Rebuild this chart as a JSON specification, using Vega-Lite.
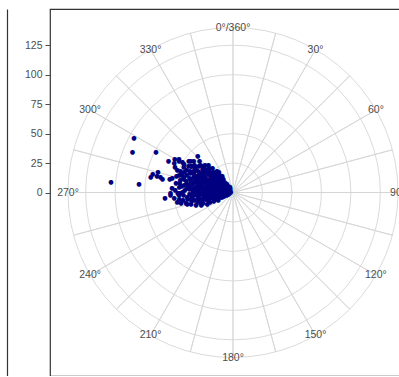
{
  "$schema": "https://vega.github.io/schema/vega-lite/v6.json",
  "width": 366,
  "height": 367,
  "autosize": {"type": "none"},
  "padding": {"left": 50, "top": 9, "right": 0, "bottom": 0},
  "background": "white",
  "config": {"view": {"stroke": "#333333", "strokeWidth": 1.2}, "font": "Liberation Sans"},
  "resolve": {"scale": {"y": "independent"}, "axis": {"y": "independent"}},
  "datasets": {
    "rings": [{"r": 25}, {"r": 50}, {"r": 75}, {"r": 100}, {"r": 125}, {"r": 140}],
    "spokes": [{"a": 0}, {"a": 15}, {"a": 30}, {"a": 45}, {"a": 60}, {"a": 75}, {"a": 90}, {"a": 105}, {"a": 120}, {"a": 135}, {"a": 150}, {"a": 165}, {"a": 180}, {"a": 195}, {"a": 210}, {"a": 225}, {"a": 240}, {"a": 255}, {"a": 270}, {"a": 285}, {"a": 300}, {"a": 315}, {"a": 330}, {"a": 345}],
    "labels": [{"a": 0, "label": "0°/360°"}, {"a": 30, "label": "30°"}, {"a": 60, "label": "60°"}, {"a": 90, "label": "90°"}, {"a": 120, "label": "120°"}, {"a": 150, "label": "150°"}, {"a": 180, "label": "180°"}, {"a": 210, "label": "210°"}, {"a": 240, "label": "240°"}, {"a": 270, "label": "270°"}, {"a": 300, "label": "300°"}, {"a": 330, "label": "330°"}],
    "obs": [
      {"dir": 250, "r": 4}, {"dir": 262, "r": 3}, {"dir": 275, "r": 5}, {"dir": 288, "r": 4}, {"dir": 300, "r": 3}, {"dir": 312, "r": 5}, {"dir": 322, "r": 4}, {"dir": 258, "r": 7}, {"dir": 283, "r": 8}, {"dir": 296, "r": 7}, {"dir": 318, "r": 8}, {"dir": 268, "r": 6}, {"dir": 245, "r": 6}, {"dir": 305, "r": 6}, {"dir": 330, "r": 5}, {"dir": 279, "r": 2}, {"dir": 292, "r": 3},
      {"dir": 246, "r": 10}, {"dir": 252, "r": 13}, {"dir": 259, "r": 11}, {"dir": 265, "r": 14}, {"dir": 271, "r": 9}, {"dir": 277, "r": 12}, {"dir": 284, "r": 15}, {"dir": 290, "r": 10}, {"dir": 297, "r": 13}, {"dir": 303, "r": 11}, {"dir": 309, "r": 14}, {"dir": 315, "r": 10}, {"dir": 321, "r": 12}, {"dir": 326, "r": 9}, {"dir": 255, "r": 9}, {"dir": 262, "r": 15}, {"dir": 280, "r": 10}, {"dir": 294, "r": 9}, {"dir": 306, "r": 15}, {"dir": 318, "r": 14}, {"dir": 243, "r": 14}, {"dir": 269, "r": 12}, {"dir": 287, "r": 13}, {"dir": 300, "r": 9}, {"dir": 312, "r": 12}, {"dir": 324, "r": 14}, {"dir": 275, "r": 15}, {"dir": 258, "r": 12},
      {"dir": 245, "r": 18}, {"dir": 250, "r": 16}, {"dir": 256, "r": 20}, {"dir": 261, "r": 17}, {"dir": 266, "r": 21}, {"dir": 270, "r": 16}, {"dir": 274, "r": 19}, {"dir": 279, "r": 22}, {"dir": 283, "r": 17}, {"dir": 288, "r": 20}, {"dir": 292, "r": 16}, {"dir": 297, "r": 21}, {"dir": 301, "r": 18}, {"dir": 306, "r": 22}, {"dir": 310, "r": 17}, {"dir": 315, "r": 20}, {"dir": 319, "r": 16}, {"dir": 323, "r": 19}, {"dir": 327, "r": 17}, {"dir": 253, "r": 22}, {"dir": 264, "r": 18}, {"dir": 276, "r": 17}, {"dir": 286, "r": 22}, {"dir": 295, "r": 18}, {"dir": 304, "r": 16}, {"dir": 313, "r": 22}, {"dir": 248, "r": 21}, {"dir": 259, "r": 16}, {"dir": 268, "r": 20}, {"dir": 281, "r": 19}, {"dir": 290, "r": 18}, {"dir": 299, "r": 16}, {"dir": 308, "r": 19}, {"dir": 317, "r": 18}, {"dir": 321, "r": 22}, {"dir": 272, "r": 22},
      {"dir": 246, "r": 24}, {"dir": 251, "r": 27}, {"dir": 256, "r": 23}, {"dir": 260, "r": 29}, {"dir": 264, "r": 25}, {"dir": 268, "r": 28}, {"dir": 272, "r": 24}, {"dir": 276, "r": 27}, {"dir": 280, "r": 30}, {"dir": 284, "r": 23}, {"dir": 288, "r": 26}, {"dir": 292, "r": 29}, {"dir": 296, "r": 24}, {"dir": 300, "r": 27}, {"dir": 304, "r": 23}, {"dir": 308, "r": 28}, {"dir": 312, "r": 25}, {"dir": 316, "r": 24}, {"dir": 320, "r": 27}, {"dir": 324, "r": 23}, {"dir": 254, "r": 30}, {"dir": 266, "r": 30}, {"dir": 278, "r": 25}, {"dir": 290, "r": 23}, {"dir": 302, "r": 30}, {"dir": 314, "r": 28}, {"dir": 258, "r": 26}, {"dir": 270, "r": 26}, {"dir": 282, "r": 27}, {"dir": 294, "r": 27}, {"dir": 306, "r": 26}, {"dir": 318, "r": 22}, {"dir": 286, "r": 29}, {"dir": 298, "r": 29}, {"dir": 262, "r": 24}, {"dir": 274, "r": 29}, {"dir": 310, "r": 30}, {"dir": 249, "r": 29},
      {"dir": 252, "r": 33}, {"dir": 257, "r": 31}, {"dir": 261, "r": 36}, {"dir": 266, "r": 33}, {"dir": 270, "r": 31}, {"dir": 274, "r": 37}, {"dir": 278, "r": 32}, {"dir": 282, "r": 35}, {"dir": 286, "r": 31}, {"dir": 290, "r": 36}, {"dir": 294, "r": 33}, {"dir": 298, "r": 31}, {"dir": 302, "r": 35}, {"dir": 306, "r": 32}, {"dir": 310, "r": 36}, {"dir": 314, "r": 33}, {"dir": 318, "r": 31}, {"dir": 255, "r": 37}, {"dir": 264, "r": 35}, {"dir": 272, "r": 34}, {"dir": 280, "r": 38}, {"dir": 288, "r": 33}, {"dir": 296, "r": 37}, {"dir": 304, "r": 38}, {"dir": 312, "r": 34}, {"dir": 268, "r": 37}, {"dir": 284, "r": 37}, {"dir": 300, "r": 33}, {"dir": 276, "r": 35}, {"dir": 292, "r": 32}, {"dir": 308, "r": 37},
      {"dir": 256, "r": 40}, {"dir": 261, "r": 43}, {"dir": 265, "r": 39}, {"dir": 269, "r": 45}, {"dir": 273, "r": 41}, {"dir": 277, "r": 44}, {"dir": 281, "r": 40}, {"dir": 285, "r": 43}, {"dir": 289, "r": 39}, {"dir": 293, "r": 45}, {"dir": 297, "r": 41}, {"dir": 301, "r": 44}, {"dir": 305, "r": 40}, {"dir": 309, "r": 43}, {"dir": 313, "r": 39}, {"dir": 259, "r": 45}, {"dir": 267, "r": 42}, {"dir": 275, "r": 39}, {"dir": 283, "r": 46}, {"dir": 291, "r": 42}, {"dir": 299, "r": 38}, {"dir": 307, "r": 45}, {"dir": 287, "r": 44}, {"dir": 279, "r": 42}, {"dir": 295, "r": 40},
      {"dir": 260, "r": 48}, {"dir": 265, "r": 50}, {"dir": 270, "r": 47}, {"dir": 274, "r": 52}, {"dir": 279, "r": 49}, {"dir": 283, "r": 53}, {"dir": 288, "r": 48}, {"dir": 292, "r": 51}, {"dir": 297, "r": 47}, {"dir": 301, "r": 50}, {"dir": 305, "r": 46}, {"dir": 268, "r": 53}, {"dir": 286, "r": 50}, {"dir": 294, "r": 54}, {"dir": 276, "r": 46}, {"dir": 282, "r": 55}, {"dir": 272, "r": 49}, {"dir": 300, "r": 53},
      {"dir": 299, "r": 96}, {"dir": 292, "r": 92}, {"dir": 298, "r": 74}, {"dir": 275, "r": 104}, {"dir": 275, "r": 80}, {"dir": 296, "r": 61}, {"dir": 300, "r": 57}, {"dir": 316, "r": 43}, {"dir": 283, "r": 70}, {"dir": 285, "r": 66}, {"dir": 282, "r": 63}, {"dir": 280.5, "r": 71}, {"dir": 265, "r": 58}, {"dir": 270, "r": 53},
      {"dir": 297, "r": 56}, {"dir": 302, "r": 54}, {"dir": 300, "r": 48}, {"dir": 302, "r": 42}, {"dir": 282, "r": 66}, {"dir": 281, "r": 61}, {"dir": 267, "r": 46}, {"dir": 257, "r": 41},
      {"dir": 248, "r": 8}, {"dir": 256, "r": 5}, {"dir": 264, "r": 9}, {"dir": 272, "r": 7}, {"dir": 281, "r": 6}, {"dir": 289, "r": 8}, {"dir": 298, "r": 5}, {"dir": 307, "r": 9}, {"dir": 315, "r": 7}, {"dir": 325, "r": 7}, {"dir": 252, "r": 11}, {"dir": 286, "r": 11}, {"dir": 303, "r": 8}, {"dir": 260, "r": 6}, {"dir": 276, "r": 10}, {"dir": 293, "r": 12}, {"dir": 310, "r": 8}, {"dir": 320, "r": 10},
      {"dir": 249, "r": 14}, {"dir": 254, "r": 17}, {"dir": 263, "r": 13}, {"dir": 267, "r": 16}, {"dir": 273, "r": 13}, {"dir": 278, "r": 15}, {"dir": 282, "r": 13}, {"dir": 285, "r": 18}, {"dir": 289, "r": 15}, {"dir": 293, "r": 14}, {"dir": 296, "r": 19}, {"dir": 299, "r": 13}, {"dir": 302, "r": 15}, {"dir": 305, "r": 19}, {"dir": 308, "r": 12}, {"dir": 311, "r": 19}, {"dir": 314, "r": 15}, {"dir": 318, "r": 12}, {"dir": 322, "r": 16}, {"dir": 325, "r": 21}, {"dir": 257, "r": 24}, {"dir": 263, "r": 21}, {"dir": 269, "r": 24}, {"dir": 275, "r": 21}, {"dir": 280, "r": 24}, {"dir": 284, "r": 20}, {"dir": 291, "r": 24}, {"dir": 294, "r": 21}, {"dir": 298, "r": 23}, {"dir": 303, "r": 20}, {"dir": 307, "r": 24}, {"dir": 312, "r": 21}, {"dir": 316, "r": 23},
      {"dir": 253, "r": 28}, {"dir": 259, "r": 33}, {"dir": 263, "r": 30}, {"dir": 267, "r": 26}, {"dir": 271, "r": 29}, {"dir": 275, "r": 32}, {"dir": 279, "r": 28}, {"dir": 283, "r": 31}, {"dir": 287, "r": 27}, {"dir": 291, "r": 30}, {"dir": 295, "r": 34}, {"dir": 299, "r": 28}, {"dir": 303, "r": 31}, {"dir": 307, "r": 29}, {"dir": 311, "r": 32}, {"dir": 315, "r": 29}, {"dir": 258, "r": 36}, {"dir": 269, "r": 34}, {"dir": 277, "r": 38}, {"dir": 285, "r": 34}, {"dir": 293, "r": 36}, {"dir": 301, "r": 38}, {"dir": 309, "r": 33}, {"dir": 262, "r": 39}, {"dir": 288, "r": 38}, {"dir": 296, "r": 30},
      {"dir": 263, "r": 46}, {"dir": 271, "r": 43}, {"dir": 280, "r": 46}, {"dir": 289, "r": 46}, {"dir": 296, "r": 44}, {"dir": 303, "r": 42}, {"dir": 284, "r": 41}, {"dir": 292, "r": 48}
    ]
  },
  "layer": [
    {
      "data": {"name": "rings"},
      "mark": {"type": "arc", "filled": false, "stroke": "#d6d6d6", "strokeWidth": 0.9},
      "encoding": {
        "theta": {"datum": 0, "type": "quantitative", "stack": null, "scale": {"type": "linear", "domain": [0, 360], "range": [0, 6.283185307179586], "zero": false, "nice": false}},
        "theta2": {"datum": 360},
        "radius": {"field": "r", "type": "quantitative", "stack": null, "scale": {"type": "linear", "domain": [0, 140], "range": [0, 165], "zero": true, "nice": false}}
      }
    },
    {
      "data": {"name": "spokes"},
      "mark": {"type": "arc", "filled": false, "stroke": "#d6d6d6", "strokeWidth": 0.9},
      "encoding": {
        "theta": {"field": "a", "type": "quantitative", "stack": null},
        "theta2": {"field": "a"},
        "radius": {"datum": 140, "type": "quantitative", "stack": null}
      }
    },
    {
      "data": {"name": "labels"},
      "mark": {"type": "text", "fontSize": 10.5, "color": "#4d4d4d", "align": "center", "baseline": "middle", "font": "Liberation Sans"},
      "encoding": {
        "theta": {"field": "a", "type": "quantitative", "stack": null},
        "radius": {"datum": 140, "type": "quantitative"},
        "text": {"field": "label", "type": "nominal"}
      }
    },
    {
      "data": {"name": "obs"},
      "mark": {"type": "text", "text": "●", "fontSize": 6.2, "color": "#000080", "align": "center", "baseline": "middle", "font": "DejaVu Sans"},
      "encoding": {
        "theta": {"field": "dir", "type": "quantitative", "stack": null},
        "radius": {"field": "r", "type": "quantitative", "stack": null}
      }
    },
    {
      "data": {"values": [{"v": 0}]},
      "mark": {"type": "point", "opacity": 0},
      "encoding": {
        "y": {"field": "v", "type": "quantitative", "scale": {"domain": [-155.7, 155.7], "nice": false, "zero": false}, "axis": {"values": [0, 25, 50, 75, 100, 125], "title": null, "grid": false, "domain": false, "ticks": true, "tickColor": "#4d4d4d", "tickSize": 5, "labelPadding": 3, "labelFontSize": 10.5, "labelColor": "#4d4d4d", "labelFont": "Liberation Sans"}}
      }
    },
    {
      "data": {"values": [{"w": 0}]},
      "mark": {"type": "point", "opacity": 0},
      "encoding": {
        "y": {"field": "w", "type": "quantitative", "scale": {"domain": [0, 1]}, "axis": {"orient": "left", "offset": 43, "title": null, "grid": false, "labels": false, "ticks": false, "domain": true, "domainColor": "#333333", "domainWidth": 1.2}}
      }
    }
  ]
}
